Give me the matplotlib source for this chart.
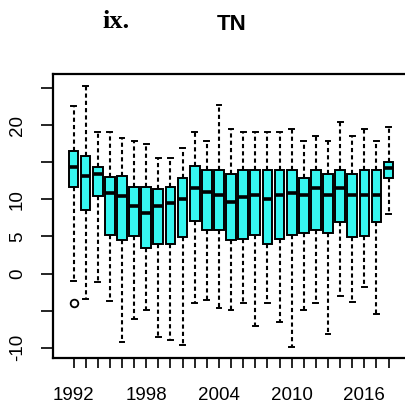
import matplotlib
matplotlib.use("Agg")
import matplotlib.pyplot as plt

# yearly TN distribution
years = list(range(1992, 2019))
whis_hi = [22.6, 25.3, 19.1, 19.1, 18.3, 17.9, 17.5, 15.5, 15.5, 16.9, 19.1, 17.9, 22.7, 19.5,
           19.1, 19.1, 19.1, 19.1, 19.5, 17.9, 18.5, 17.9, 20.4, 18.5, 19.5, 17.9, 19.8]
q3 = [16.5, 15.8, 14.4, 13.0, 13.1, 11.7, 11.7, 11.4, 11.7, 12.9, 14.5, 13.9, 14.0, 13.4,
      14.0, 14.0, 14.0, 14.0, 14.0, 12.9, 14.0, 13.4, 14.0, 13.4, 14.0, 14.0, 15.0]
med = [14.3, 13.1, 13.4, 10.8, 10.5, 9.1, 8.2, 9.1, 9.5, 10.0, 11.5, 11.0, 10.6, 9.6,
       10.3, 10.6, 10.1, 10.6, 10.8, 10.6, 11.5, 10.6, 11.5, 10.6, 10.6, 10.6, 14.2]
q1 = [11.6, 8.6, 10.5, 5.2, 4.5, 5.1, 3.5, 4.0, 4.0, 4.9, 7.1, 5.9, 5.9, 4.5,
      4.7, 5.2, 4.0, 4.7, 5.2, 5.4, 5.9, 5.4, 7.0, 4.9, 5.0, 7.0, 12.9]
whis_lo = [-1.0, -3.5, -1.2, -3.7, -9.2, -6.1, -4.9, -8.5, -8.9, -9.6, -4.0, -3.6, -4.6, -4.9,
           -4.0, -7.1, -4.0, -6.5, -9.9, -4.9, -4.0, -8.1, -3.0, -3.9, -1.8, -5.4, 8.0]
outliers = {1992: [-4.0]}

label_years = [1992, 1998, 2004, 2010, 2016]
y_ticks = [-10, -5, 0, 5, 10, 15, 20, 25]
y_labels = ["-10", "", "0", "5", "10", "", "20", ""]

stats = []
for i, yr in enumerate(years):
    stats.append({"med": med[i], "q1": q1[i], "q3": q3[i],
                  "whislo": whis_lo[i], "whishi": whis_hi[i],
                  "fliers": outliers.get(yr, [])})

W, H = 406, 404
fig = plt.figure(figsize=(W / 100, H / 100), dpi=100)
# axes box runs a little past the right edge, like the cropped original
left, right, top, bottom = 53, 410, 74, 358
ax = fig.add_axes([left / W, (H - bottom) / H, (right - left) / W, (bottom - top) / H])

pos = list(range(1, len(years) + 1))
ax.bxp(stats, positions=pos, widths=0.8, patch_artist=True,
       boxprops=dict(facecolor="#36F6F0", edgecolor="black", linewidth=1.4),
       medianprops=dict(color="black", linewidth=2.6, solid_capstyle="butt"),
       whiskerprops=dict(color="black", linewidth=1.5, linestyle=(0, (2, 1.5))),
       capprops=dict(color="black", linewidth=1.4),
       flierprops=dict(marker="o", markerfacecolor="none", markeredgecolor="black",
                       markersize=5.5, markeredgewidth=1.3))

ax.set_xlim(1 - (73.5 - left) / 12.12, 1 + (right - 73.5) / 12.12)
ax.set_ylim((273.5 - bottom) / 7.423, (273.5 - top) / 7.423)

ax.set_xticks(pos)
ax.set_xticklabels([str(y) if y in label_years else "" for y in years])
ax.set_yticks(y_ticks)
ax.set_yticklabels(y_labels, rotation=90, va="center")

for lab in ax.get_xticklabels() + ax.get_yticklabels():
    lab.set_fontfamily("Liberation Sans")
    lab.set_fontsize(13.5)
ax.tick_params(axis="x", direction="out", length=7.5, width=1.2, pad=13.5)
ax.tick_params(axis="y", direction="out", length=8.5, width=1.2, pad=11)
for s in ax.spines.values():
    s.set_linewidth(1.6)

fig.text(116 / W, 1 - 21 / H, "ix.", ha="center", va="center",
         fontfamily="Liberation Serif", fontweight="bold", fontsize=19)
fig.text(232 / W, 1 - 25 / H, "TN", ha="center", va="center",
         fontfamily="Liberation Sans", fontweight="bold", fontsize=16)

fig.savefig("out.png", dpi=100)
